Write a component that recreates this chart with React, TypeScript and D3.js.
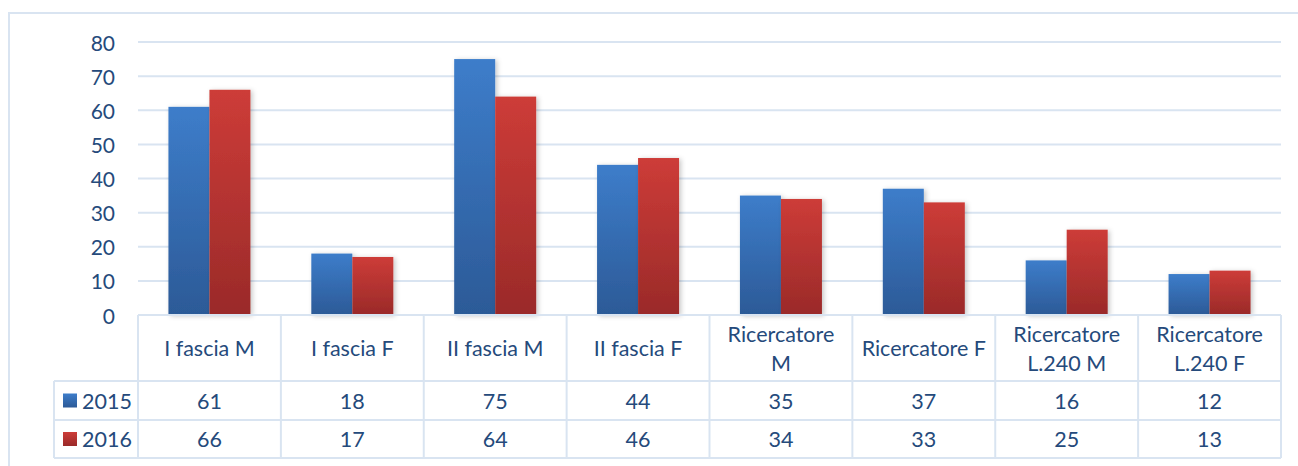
import React from "react";
import * as d3 from "d3";

const categories: string[][] = [
  ["I fascia M"],
  ["I fascia F"],
  ["II fascia M"],
  ["II fascia F"],
  ["Ricercatore", "M"],
  ["Ricercatore F"],
  ["Ricercatore", "L.240 M"],
  ["Ricercatore", "L.240 F"],
];
const seriesNames = ["2015", "2016"];
const values2015 = [61, 18, 75, 44, 35, 37, 16, 12];
const values2016 = [66, 17, 64, 46, 34, 33, 25, 13];
const yTicks = [0, 10, 20, 30, 40, 50, 60, 70, 80];

const W = 1298;
const H = 466;
const plotLeft = 138;
const plotRight = 1281;
const plotTop = 42;
const plotBottom = 315;
const rowTops = [315, 381, 420, 458];
const legendLeft = 54;

const textColor = "#254a7b";
const gridColor = "#d9e4f1";
const font = "Lato, 'Open Sans', sans-serif";
const tableFont = 21.5;

export default function App() {
  const series = [values2015, values2016];
  const x = d3
    .scaleBand<number>()
    .domain(d3.range(categories.length))
    .range([plotLeft, plotRight])
    .padding(0);
  const barW = 41;
  const xs = d3
    .scaleBand<string>()
    .domain(seriesNames)
    .range([-barW, barW])
    .padding(0);
  const y = d3.scaleLinear().domain([0, 80]).range([plotBottom, plotTop]);
  const colW = x.bandwidth();
  const gradIds = ["g2015", "g2016"];

  return (
    <svg
      width={W}
      height={H}
      style={{ position: "absolute", left: 0, top: 0, display: "block" }}
      fontFamily={font}
    >
      <defs>
        <linearGradient id="g2015" x1="0" y1="0" x2="0" y2="1">
          <stop offset="0" stopColor="#3d7dca" />
          <stop offset="1" stopColor="#2c5a97" />
        </linearGradient>
        <linearGradient id="g2016" x1="0" y1="0" x2="0" y2="1">
          <stop offset="0" stopColor="#cd3c38" />
          <stop offset="1" stopColor="#9a2a29" />
        </linearGradient>
        <filter id="shadow" x="-20%" y="-5%" width="140%" height="110%">
          <feDropShadow dx="2" dy="1" stdDeviation="2.5" floodColor="#000" floodOpacity="0.22" />
        </filter>
      </defs>
      <rect width={W} height={H} fill="#fff" />
      {/* chart frame */}
      <rect x={9} y={13} width={W + 10} height={H + 10} fill="none" stroke={gridColor} strokeWidth={2} />

      {/* gridlines and y labels */}
      {yTicks.map((t) => (
        <g key={t}>
          {t > 0 && (
            <line x1={plotLeft} x2={plotRight} y1={y(t)} y2={y(t)} stroke={gridColor} strokeWidth={2} />
          )}
          <text
            x={115}
            y={y(t)}
            textAnchor="end"
            dominantBaseline="central"
            fontSize={21}
            fill={textColor}
          >
            {t}
          </text>
        </g>
      ))}

      {/* bars */}
      {series.map((vals, si) => (
        <g key={si} filter="url(#shadow)">
          {vals.map((v, i) => {
            const cx = (x(i) as number) + colW / 2;
            return (
              <rect
                key={i}
                x={cx + (xs(seriesNames[si]) as number)}
                y={y(v)}
                width={xs.bandwidth()}
                height={y(0) - y(v)}
                fill={`url(#${gradIds[si]})`}
              />
            );
          })}
        </g>
      ))}

      {/* data table */}
      <g stroke={gridColor} strokeWidth={2} fill="none">
        <line x1={plotLeft} x2={plotRight} y1={rowTops[0]} y2={rowTops[0]} />
        {rowTops.slice(1).map((ry) => (
          <line key={ry} x1={legendLeft} x2={plotRight} y1={ry} y2={ry} />
        ))}
        <line x1={legendLeft} x2={legendLeft} y1={rowTops[1]} y2={rowTops[3]} />
        {d3.range(categories.length + 1).map((i) => {
          const lx = i < categories.length ? (x(i) as number) : plotRight;
          return <line key={i} x1={lx} x2={lx} y1={rowTops[0]} y2={rowTops[3]} />;
        })}
      </g>

      {/* category header */}
      {categories.map((lines, i) => {
        const cx = (x(i) as number) + colW / 2;
        const mid = (rowTops[0] + rowTops[1]) / 2;
        const lh = 29;
        return (
          <text key={i} x={cx} textAnchor="middle" fontSize={tableFont} fill={textColor}>
            {lines.map((ln, k) => (
              <tspan
                key={k}
                x={cx}
                y={mid + (k - (lines.length - 1) / 2) * lh}
                dominantBaseline="central"
              >
                {ln}
              </tspan>
            ))}
          </text>
        );
      })}

      {/* series rows */}
      {series.map((vals, si) => {
        const cy = (rowTops[si + 1] + rowTops[si + 2]) / 2;
        return (
          <g key={si}>
            <rect x={63} y={cy - 7} width={14} height={14} fill={`url(#${gradIds[si]})`} />
            <text x={82} y={cy} dominantBaseline="central" fontSize={tableFont} fill={textColor}>
              {seriesNames[si]}
            </text>
            {vals.map((v, i) => (
              <text
                key={i}
                x={(x(i) as number) + colW / 2}
                y={cy}
                textAnchor="middle"
                dominantBaseline="central"
                fontSize={tableFont}
                fill={textColor}
              >
                {v}
              </text>
            ))}
          </g>
        );
      })}
    </svg>
  );
}
